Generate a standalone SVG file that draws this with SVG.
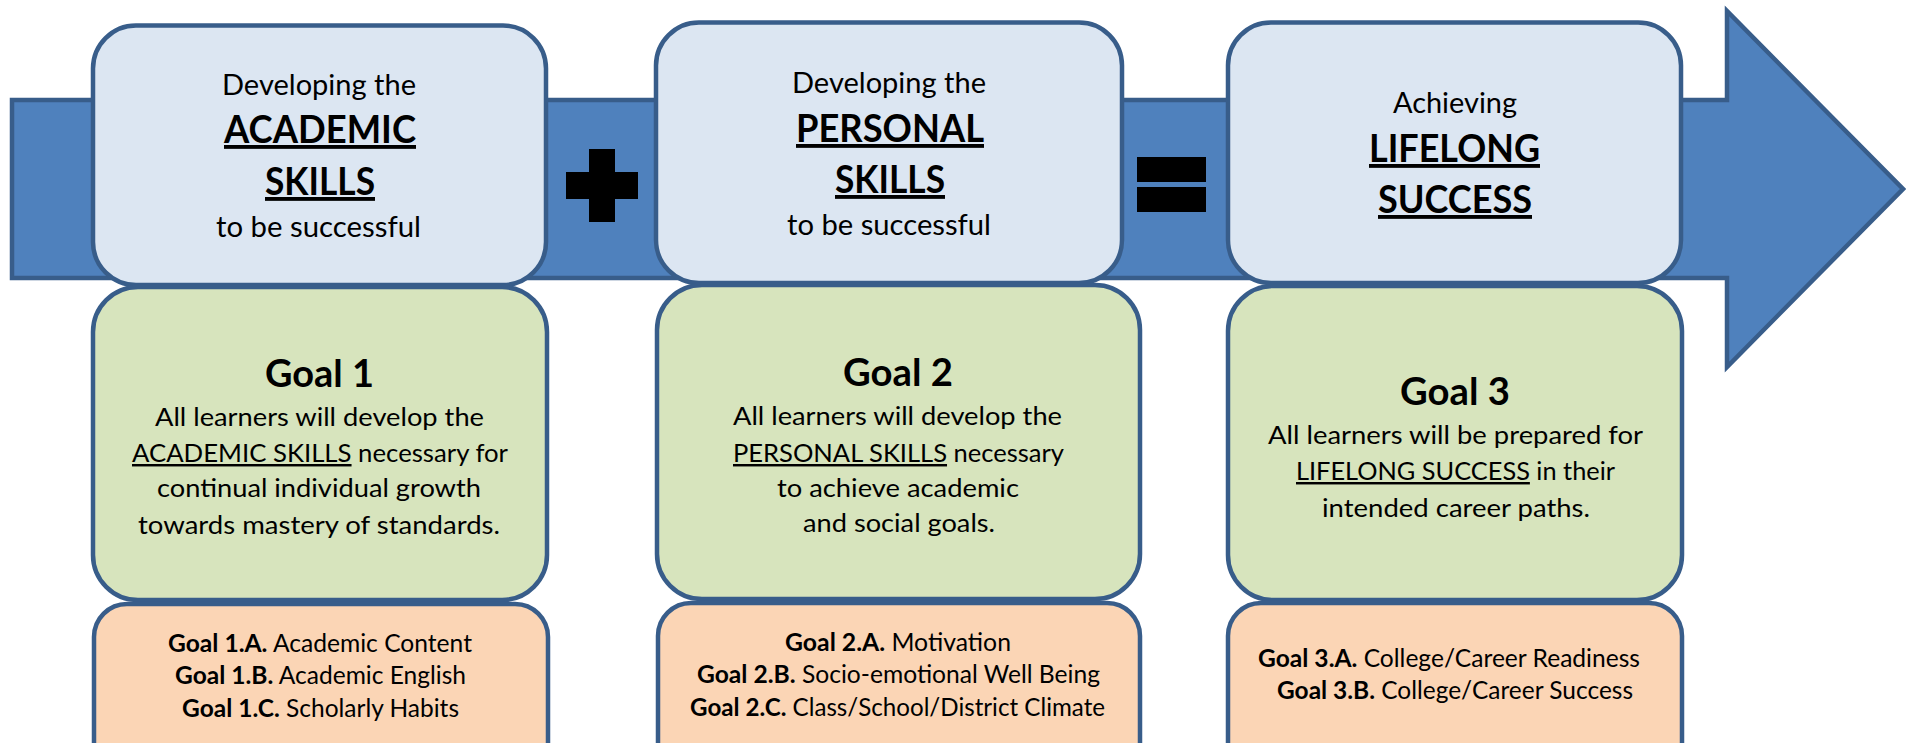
<svg xmlns="http://www.w3.org/2000/svg" width="1906" height="743" viewBox="0 0 1906 743">
<style>
.arrow{fill:#4F81BD;stroke:#385D8A;stroke-width:4.5;stroke-linejoin:miter}
.top{fill:#DCE6F2;stroke:#385D8A;stroke-width:4.5}
.goal{fill:#D7E4BD;stroke:#385D8A;stroke-width:4.5}
.obj{fill:#FBD5B5;stroke:#385D8A;stroke-width:4.5}
.op{fill:#000}
text{font-family:Lato,"Open Sans","Liberation Sans",sans-serif;fill:#000}
.h{font-size:29px}
.hb{font-size:38.5px;font-weight:700;text-decoration:underline}
.gt{font-size:38px;font-weight:700}
.gb{font-size:24.5px}
.ob{font-size:24.5px}
.u{text-decoration:underline}
.b{font-weight:700}
</style>
<g id="connectors">
<polygon class="arrow" points="12,100 1727,100 1727,11 1903,189 1727,367 1727,278 12,278"/>
</g>
<g id="academic-skills">
<rect class="top" x="93" y="25.5" width="453" height="259.5" rx="43" ry="43"/>
<text class="h" x="222" y="95" textLength="194" lengthAdjust="spacingAndGlyphs">Developing the</text>
<text class="hb" x="224" y="143" textLength="192" lengthAdjust="spacingAndGlyphs">ACADEMIC</text>
<text class="hb" x="265" y="195" textLength="110" lengthAdjust="spacingAndGlyphs">SKILLS</text>
<text class="h" x="216" y="237" textLength="205" lengthAdjust="spacingAndGlyphs">to be successful</text>
</g>
<g id="plus">
<rect class="op" x="589" y="149" width="26" height="73"/>
<rect class="op" x="566" y="172" width="72" height="27"/>
</g>
<g id="personal-skills">
<rect class="top" x="656" y="22.5" width="466" height="260.5" rx="43" ry="43"/>
<text class="h" x="792" y="93" textLength="194" lengthAdjust="spacingAndGlyphs">Developing the</text>
<text class="hb" x="796" y="142" textLength="188" lengthAdjust="spacingAndGlyphs">PERSONAL</text>
<text class="hb" x="835" y="193" textLength="110" lengthAdjust="spacingAndGlyphs">SKILLS</text>
<text class="h" x="787" y="235" textLength="204" lengthAdjust="spacingAndGlyphs">to be successful</text>
</g>
<g id="equals">
<rect class="op" x="1137" y="157" width="69" height="25"/>
<rect class="op" x="1137" y="187" width="69" height="25"/>
</g>
<g id="lifelong-success">
<rect class="top" x="1228" y="22.5" width="453" height="260.5" rx="43" ry="43"/>
<text class="h" x="1393" y="113" textLength="124" lengthAdjust="spacingAndGlyphs">Achieving</text>
<text class="hb" x="1369" y="162" textLength="171" lengthAdjust="spacingAndGlyphs">LIFELONG</text>
<text class="hb" x="1378" y="213" textLength="154" lengthAdjust="spacingAndGlyphs">SUCCESS</text>
</g>
<g id="goal-1">
<rect class="goal" x="93" y="287" width="454" height="313" rx="45" ry="45"/>
<text class="gt" x="265" y="387" textLength="109" lengthAdjust="spacingAndGlyphs">Goal 1</text>
<text class="gb" x="155" y="426" textLength="329" lengthAdjust="spacingAndGlyphs">All learners will develop the</text>
<text class="gb" x="132" y="462" textLength="376" lengthAdjust="spacingAndGlyphs"><tspan class="u">ACADEMIC SKILLS</tspan> necessary for</text>
<text class="gb" x="157" y="497" textLength="324" lengthAdjust="spacingAndGlyphs">continual individual growth</text>
<text class="gb" x="138" y="534" textLength="362" lengthAdjust="spacingAndGlyphs">towards mastery of standards.</text>
</g>
<g id="goal-2">
<rect class="goal" x="657" y="285" width="483" height="314" rx="45" ry="45"/>
<text class="gt" x="843" y="386" textLength="110" lengthAdjust="spacingAndGlyphs">Goal 2</text>
<text class="gb" x="733" y="425" textLength="329" lengthAdjust="spacingAndGlyphs">All learners will develop the</text>
<text class="gb" x="733" y="462" textLength="331" lengthAdjust="spacingAndGlyphs"><tspan class="u">PERSONAL SKILLS</tspan> necessary</text>
<text class="gb" x="777" y="497" textLength="242" lengthAdjust="spacingAndGlyphs">to achieve academic</text>
<text class="gb" x="803" y="532" textLength="192" lengthAdjust="spacingAndGlyphs">and social goals.</text>
</g>
<g id="goal-3">
<rect class="goal" x="1228" y="286" width="454" height="314" rx="45" ry="45"/>
<text class="gt" x="1400" y="405" textLength="110" lengthAdjust="spacingAndGlyphs">Goal 3</text>
<text class="gb" x="1268" y="444" textLength="375" lengthAdjust="spacingAndGlyphs">All learners will be prepared for</text>
<text class="gb" x="1296" y="480" textLength="319" lengthAdjust="spacingAndGlyphs"><tspan class="u">LIFELONG SUCCESS</tspan> in their</text>
<text class="gb" x="1322" y="517" textLength="268" lengthAdjust="spacingAndGlyphs">intended career paths.</text>
</g>
<g id="objectives-1">
<rect class="obj" x="94" y="604" width="454" height="200" rx="33" ry="33"/>
<text class="ob" x="168" y="652" textLength="304" lengthAdjust="spacingAndGlyphs"><tspan class="b">Goal 1.A.</tspan> Academic Content</text>
<text class="ob" x="175" y="684" textLength="291" lengthAdjust="spacingAndGlyphs"><tspan class="b">Goal 1.B.</tspan> Academic English</text>
<text class="ob" x="182" y="717" textLength="277" lengthAdjust="spacingAndGlyphs"><tspan class="b">Goal 1.C.</tspan> Scholarly Habits</text>
</g>
<g id="objectives-2">
<rect class="obj" x="658" y="603" width="482" height="200" rx="33" ry="33"/>
<text class="ob" x="785" y="651" textLength="226" lengthAdjust="spacingAndGlyphs"><tspan class="b">Goal 2.A.</tspan> Motivation</text>
<text class="ob" x="697" y="683" textLength="403" lengthAdjust="spacingAndGlyphs"><tspan class="b">Goal 2.B.</tspan> Socio-emotional Well Being</text>
<text class="ob" x="690" y="716" textLength="415" lengthAdjust="spacingAndGlyphs"><tspan class="b">Goal 2.C.</tspan> Class/School/District Climate</text>
</g>
<g id="objectives-3">
<rect class="obj" x="1228" y="603" width="454" height="200" rx="33" ry="33"/>
<text class="ob" x="1258" y="667" textLength="382" lengthAdjust="spacingAndGlyphs"><tspan class="b">Goal 3.A.</tspan> College/Career Readiness</text>
<text class="ob" x="1277" y="699" textLength="356" lengthAdjust="spacingAndGlyphs"><tspan class="b">Goal 3.B.</tspan> College/Career Success</text>
</g>
</svg>
